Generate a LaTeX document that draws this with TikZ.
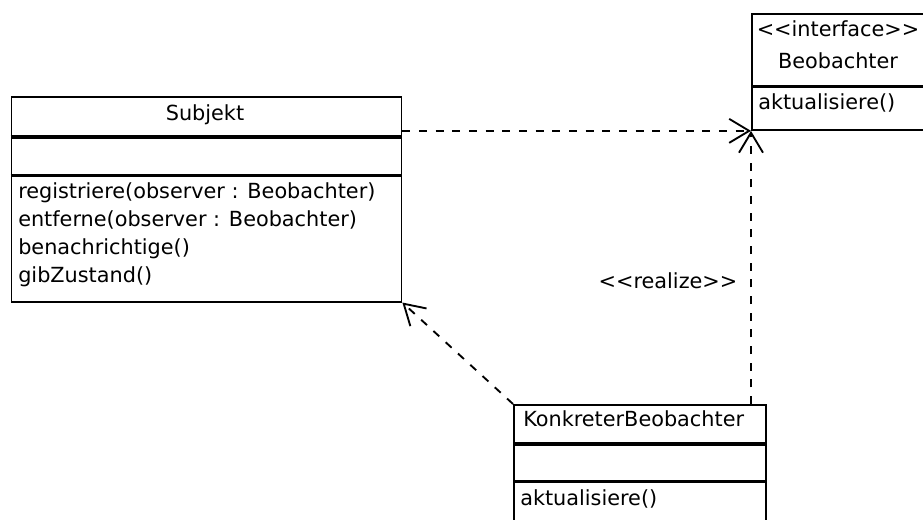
\documentclass[tikz,border=0pt]{standalone}
\usepackage{fontspec}
\newfontfamily\umlfont{DejaVu Sans}
\usetikzlibrary{arrows.meta}
\begin{document}
\begin{tikzpicture}[x=0.75pt,y=-0.75pt,
  classbox/.style={draw,line width=1.4pt,anchor=north west,inner sep=0pt},
  sep/.style={line width=2.4pt},
  txt/.style={font=\umlfont\fontsize{15.6pt}{18pt}\selectfont,inner sep=0pt},
  dep/.style={line width=1.4pt,dash pattern=on 6pt off 6.5pt,
    -{Straight Barb[length=15pt,width=18pt]}}]
\fill[white] (0,0) rectangle (923,520);
\useasboundingbox (0,0) rectangle (923,520);
% Subjekt
\node[classbox,minimum width=292.5pt,minimum height=153.5pt] (subj) at (10.5,96) {};
\draw[sep] (subj.west |- 0,137) -- (subj.east |- 0,137);
\draw[sep] (subj.west |- 0,175.5) -- (subj.east |- 0,175.5);
\node[txt,anchor=base] (subjname) at (205,121) {Subjekt};
\node[txt,anchor=base west] (m1) at (18,198.3) {registriere(observer : Beobachter)};
\node[txt,anchor=base west] (m2) at (18,226.5) {entferne(observer : Beobachter)};
\node[txt,anchor=base west] (m3) at (18,254.5) {benachrichtige()};
\node[txt,anchor=base west] (m4) at (18,282) {gibZustand()};
% Beobachter
\node[classbox,minimum width=130.5pt,minimum height=87pt] (beob) at (751,13) {};
\draw[sep] (beob.west |- 0,86.5) -- (beob.east |- 0,86.5);
\node[txt,anchor=base] (stereo) at (838,36.7) {<<interface>>};
\node[txt,anchor=base] (beobname) at (838,68.3) {Beobachter};
\node[txt,anchor=base west] (b1) at (758,110) {aktualisiere()};
% KonkreterBeobachter
\node[classbox,minimum width=189pt,minimum height=97.5pt] (konk) at (513,404) {};
\draw[sep] (konk.west |- 0,444) -- (konk.east |- 0,444);
\node[txt,anchor=base west] (konkname) at (523,426.7) {KonkreterBeobachter};
\draw[sep] (konk.west |- 0,481.5) -- (konk.east |- 0,481.5);
\node[txt,anchor=base west] (k1) at (520,505) {aktualisiere()};
% connectors
\draw[dep] (subj.east |- beob.south west) -- (beob.south west);
\draw[dep] (beob.south west |- konk.north) -- (beob.south west);
\draw[dep] (konk.north west) -- (subj.south east);
\node[txt,anchor=base] (real) at (668,288) {<<realize>>};
\end{tikzpicture}
\end{document}
